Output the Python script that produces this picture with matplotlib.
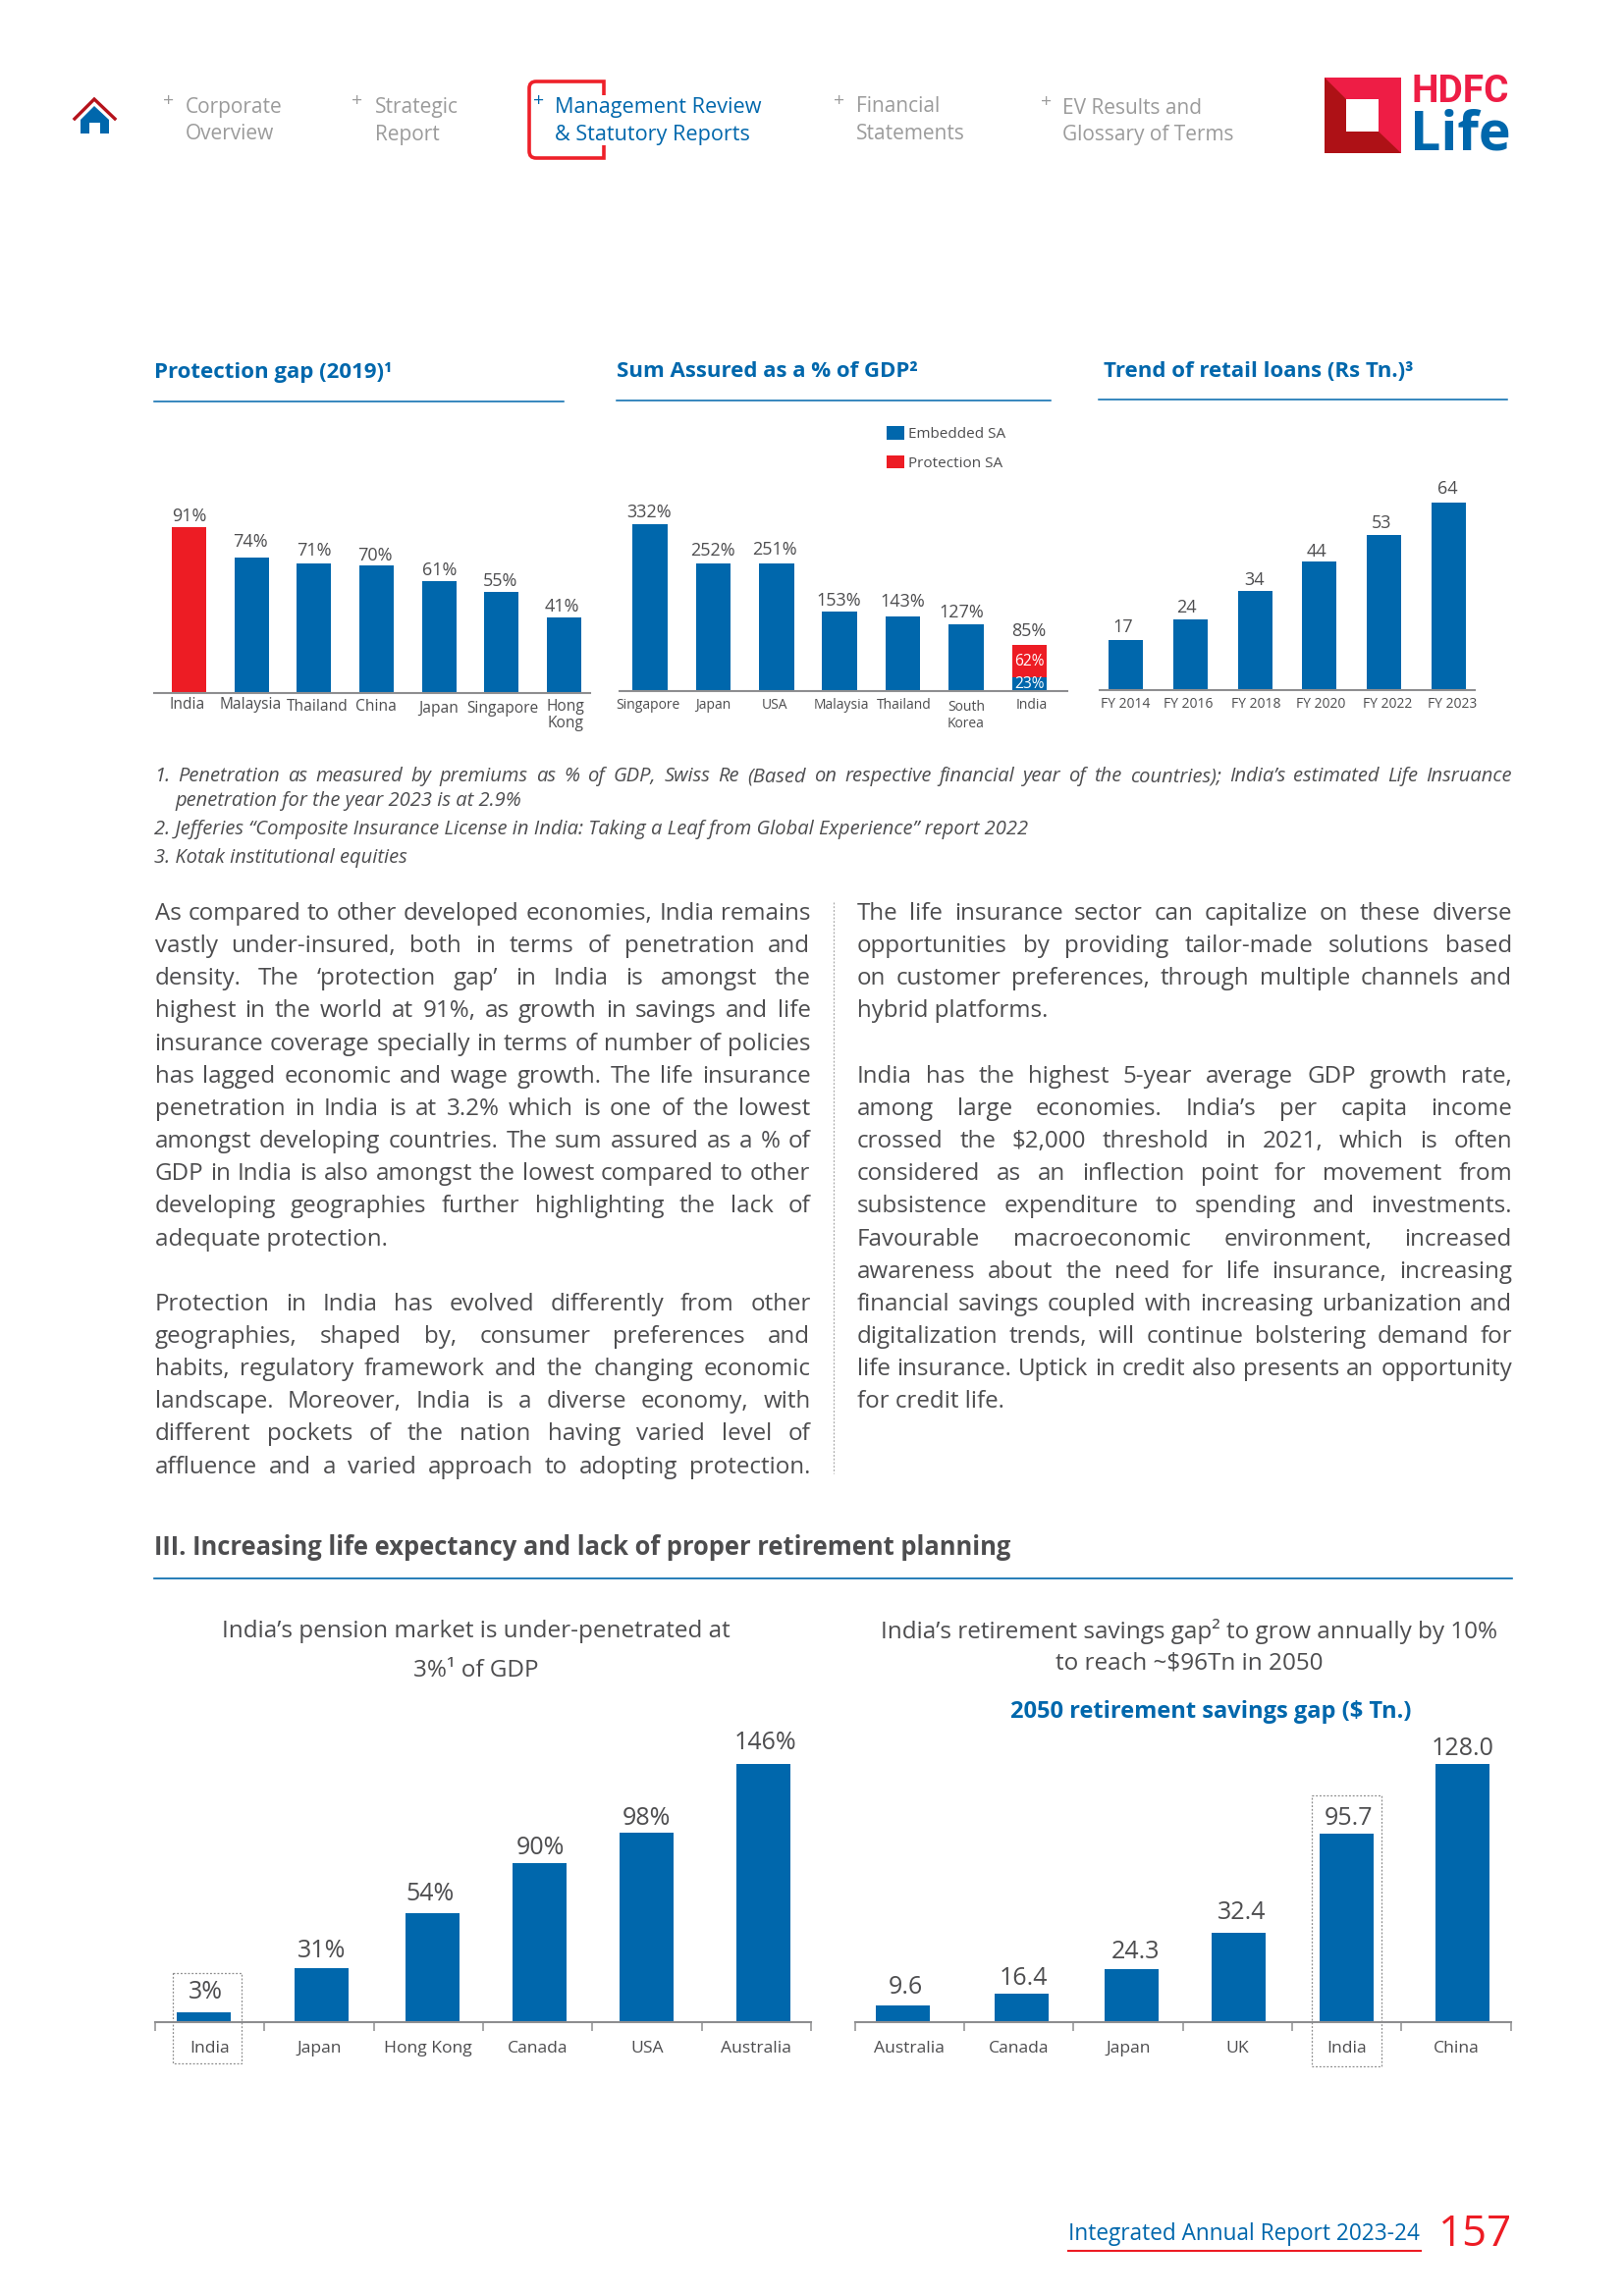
import matplotlib
matplotlib.use("Agg")
import matplotlib.pyplot as plt
from matplotlib.patches import Polygon, Rectangle, PathPatch
from matplotlib.path import Path

plt.rcParams['font.family'] = ['Open Sans', 'DejaVu Sans']

BLUE = '#0067AC'
RED = '#ED1C24'
TEXT = '#4D4D4F'
NAV = '#9B9B9B'
AXIS = '#8E8E90'

# first row of charts
gap_countries = ['India', 'Malaysia', 'Thailand', 'China', 'Japan', 'Singapore', 'Hong\nKong']
gap_values = [91, 74, 71, 70, 61, 55, 41]

sa_countries = ['Singapore', 'Japan', 'USA', 'Malaysia', 'Thailand', 'South\nKorea', 'India']
sa_labels = ['332%', '252%', '251%', '153%', '143%', '127%', '85%']
# bar heights as drawn, the source page does not draw them quite to scale
sa_embedded = [332, 254, 254, 158, 148, 133, 27]
sa_protection = [0, 0, 0, 0, 0, 0, 64]

loan_years = ['FY 2014', 'FY 2016', 'FY 2018', 'FY 2020', 'FY 2022', 'FY 2023']
loan_values = [17, 24, 34, 44, 53, 64]

# second row of charts
pension_countries = ['India', 'Japan', 'Hong Kong', 'Canada', 'USA', 'Australia']
pension_labels = ['3%', '31%', '54%', '90%', '98%', '146%']
pension_heights = [5.6, 30.6, 61.8, 89.7, 107, 146]

savings_countries = ['Australia', 'Canada', 'Japan', 'UK', 'India', 'China']
savings_labels = ['9.6', '16.4', '24.3', '32.4', '95.7', '128.0']
savings_heights = [8.3, 14.1, 26.3, 44.3, 93.4, 128]

nav_items = [
    (172, 189, 'Corporate', 'Overview', NAV),
    (364, 382, 'Strategic', 'Report', NAV),
    (549, 565, 'Management Review', '& Statutory Reports', BLUE),
    (855, 872, 'Financial', 'Statements', NAV),
    (1066, 1082, 'EV Results and', 'Glossary of Terms', NAV),
]

footnotes = [
    'penetration for the year 2023 is at 2.9%',
    '2. Jefferies \u201cComposite Insurance License in India: Taking a Leaf from Global Experience\u201d report 2022',
    '3. Kotak institutional equities',
]
footnote_first = ('1. Penetration as measured by premiums as % of GDP, Swiss Re (Based on respective financial year '
                  'of the countries); India\u2019s estimated Life Insruance')

left_col = [
    'As compared to other developed economies, India remains',
    'vastly under-insured, both in terms of penetration and',
    'density. The \u2018protection gap\u2019 in India is amongst the',
    'highest in the world at 91%, as growth in savings and life',
    'insurance coverage specially in terms of number of policies',
    'has lagged economic and wage growth. The life insurance',
    'penetration in India is at 3.2% which is one of the lowest',
    'amongst developing countries. The sum assured as a % of',
    'GDP in India is also amongst the lowest compared to other',
    'developing geographies further highlighting the lack of',
    '-adequate protection.',
    '',
    'Protection in India has evolved differently from other',
    'geographies, shaped by, consumer preferences and',
    'habits, regulatory framework and the changing economic',
    'landscape. Moreover, India is a diverse economy, with',
    'different pockets of the nation having varied level of',
    'affluence and a varied approach to adopting protection.',
]
right_col = [
    'The life insurance sector can capitalize on these diverse',
    'opportunities by providing tailor-made solutions based',
    'on customer preferences, through multiple channels and',
    '-hybrid platforms.',
    '',
    'India has the highest 5-year average GDP growth rate,',
    'among large economies. India\u2019s per capita income',
    'crossed the $2,000 threshold in 2021, which is often',
    'considered as an inflection point for movement from',
    'subsistence expenditure to spending and investments.',
    'Favourable macroeconomic environment, increased',
    'awareness about the need for life insurance, increasing',
    'financial savings coupled with increasing urbanization and',
    'digitalization trends, will continue bolstering demand for',
    'life insurance. Uptick in credit also presents an opportunity',
    '-for credit life.',
]

fig = plt.figure(figsize=(16.54, 23.39), dpi=100)
page = fig.add_axes([0, 0, 1, 1], zorder=5)
page.set_xlim(0, 1654)
page.set_ylim(2339, 0)
page.axis('off')


def put(x, y, s, size, color=TEXT, **kw):
    kw.setdefault('va', 'center')
    return page.text(x, y, s, fontsize=size, color=color, **kw)


def justify(x0, x1, y, line, size, **kw):
    # word by word so the line fills the column
    words = line.split()
    rend = fig.canvas.get_renderer()
    inv = page.transData.inverted()
    widths = []
    items = []
    for w in words:
        t = put(x0, y, w, size, **kw)
        bb = t.get_window_extent(rend)
        widths.append(inv.transform((bb.x1, 0))[0] - inv.transform((bb.x0, 0))[0])
        items.append(t)
    gap = (x1 - x0 - sum(widths)) / max(len(words) - 1, 1)
    x = x0
    for t, wd in zip(items, widths):
        t.set_x(x)
        x += wd + gap


def column(lines, x0, x1, y0, step):
    y = y0
    for line in lines:
        if line.startswith('-'):
            put(x0, y, line[1:], 17.4)
        elif line:
            justify(x0, x1, y, line, 17.4)
        y += step


def chart_axes(left, right, top, base, ymax):
    ax = fig.add_axes([left / 1654, 1 - base / 2339, (right - left) / 1654, (base - top) / 2339])
    ax.set_ylim(0, ymax)
    ax.patch.set_alpha(0)
    for side in ['top', 'left', 'right']:
        ax.spines[side].set_visible(False)
    ax.spines['bottom'].set_color(AXIS)
    ax.spines['bottom'].set_linewidth(1.5)
    ax.set_yticks([])
    return ax


def labels(ax, xs, tops, texts, dx, dy, size):
    for x, h, s, a, b in zip(xs, tops, texts, dx, dy):
        ax.annotate(s, (x, h), xytext=(a, b), textcoords='offset pixels', ha='center', va='center',
                    fontsize=size, color=TEXT)


def names(ax, xs, texts, dx, dy, size):
    for x, s, a, b in zip(xs, texts, dx, dy):
        ax.annotate(s, (x, 0), xytext=(a, -b), textcoords='offset pixels', ha='center', va='center',
                    fontsize=size, color=TEXT, linespacing=1.15, annotation_clip=False)


# header
page.plot([76, 96, 117], [121, 101, 121], color='#B5121B', lw=2.4, solid_joinstyle='miter')
page.add_patch(Polygon([(82, 122), (96, 108), (111, 122), (111, 136), (102, 136), (102, 125),
                        (91, 125), (91, 136), (82, 136)], color=BLUE, lw=0))
for plus_x, x, one, two, col in nav_items:
    yy = 1 if one.startswith('EV') else 0
    put(plus_x, 103 + yy, '+', 14, col, ha='center')
    size = 15.6 if col == BLUE else 15.0
    put(x, 109 + yy, one, size, col)
    put(x, 137 + yy, two, size, col)
bracket = Path([(615, 97), (615, 83), (611, 83), (546, 83), (539, 83), (539, 90), (539, 154), (539, 161), (546, 161),
                (611, 161), (615, 161), (615, 148)],
               [Path.MOVETO, Path.LINETO, Path.LINETO, Path.LINETO, Path.CURVE3, Path.CURVE3, Path.LINETO,
                Path.CURVE3, Path.CURVE3, Path.LINETO, Path.LINETO, Path.LINETO])
page.add_patch(PathPatch(bracket, fill=False, edgecolor='#EE2029', lw=2.6))

page.add_patch(Rectangle((1349, 79), 78, 77, color='#EE1D45', lw=0))
page.add_patch(Polygon([(1349, 79), (1371, 101), (1371, 134), (1404, 134), (1427, 156), (1349, 156)],
                       color='#AE1116', lw=0))
page.add_patch(Rectangle((1371, 101), 33, 33, color='white', lw=0))
put(1437, 94, 'HDFC', 28, '#EE1D45', fontweight='bold', fontfamily='Roboto')
put(1436, 138, 'Life', 40, BLUE, fontweight='bold', fontfamily='Open Sans')

# section titles of the first row
for x0, x1, ty, ly, s in [(157, 574, 380, 408.5, 'Protection gap (2019)\u00b9'),
                          (628, 1070, 379, 407.5, 'Sum Assured as a % of GDP\u00b2'),
                          (1124, 1535, 378, 406.5, 'Trend of retail loans (Rs Tn.)\u00b3')]:
    put(x0, ty, s, 16, BLUE, fontweight='bold')
    page.plot([x0 - 5 if x0 > 1000 else x0, x1], [ly, ly], color=BLUE, lw=1.1)

# protection gap
ax = chart_axes(157, 601, 520, 705.5, 100)
step = 63.67
ax.set_xlim((157 - 192.5) / step, (601 - 192.5) / step)
xs = list(range(len(gap_values)))
ax.bar(xs, gap_values, width=0.55, color=[RED] + [BLUE] * 6)
ax.set_ylim(0, 185.0 / 1.85)
ax.set_xticks([])
labels(ax, xs, gap_values, ['%d%%' % v for v in gap_values], [0.5, -1, 0, -2, 0.5, -1.5, -2.5],
       [11, 16, 13, 10, 11, 11, 11], 13)
names(ax, xs, gap_countries, [-2, -1, 3, -1, -1, 1, 1], [13, 13, 15, 14, 17, 17, 23], 11.2)

# sum assured
ax = chart_axes(631, 1087, 510, 704, 194 / 0.512)
step = 64.4
ax.set_xlim((631 - 662) / step, (1087 - 662) / step)
xs = list(range(len(sa_embedded)))
ax.bar(xs, sa_embedded, width=0.55, color=BLUE, label='Embedded SA')
ax.bar(xs, sa_protection, bottom=sa_embedded, width=0.55, color=RED, label='Protection SA')
ax.set_xticks([])
tops = [a + b for a, b in zip(sa_embedded, sa_protection)]
labels(ax, xs, tops, sa_labels, [-1, -0.5, -1.5, -0.5, -0.5, -5, -0.5], [12, 13, 14, 11, 15, 12, 14], 13)
names(ax, xs, sa_countries, [-2, 0, -1.5, 1.5, 1.5, 0, 2.5], [15, 15, 15, 15, 15, 25, 15], 10)
ax.annotate('62%', (6, sa_embedded[6] + sa_protection[6] / 2), xytext=(0, 0), textcoords='offset pixels',
            ha='center', va='center', fontsize=11.2, color='white')
ax.annotate('23%', (6, sa_embedded[6] / 2), xytext=(0, 0), textcoords='offset pixels',
            ha='center', va='center', fontsize=11.2, color='white')
fig.legend(*ax.get_legend_handles_labels(), loc='upper left', bbox_to_anchor=(903 / 1654, 1 - 434 / 2339),
           frameon=False, fontsize=11, labelcolor=TEXT, handlelength=1.2, handleheight=1.0,
           handletextpad=0.25, labelspacing=0.9, borderpad=0, borderaxespad=0)

# retail loans
ax = chart_axes(1120, 1502, 490, 703, 213 / 2.98)
step = 65.8
ax.set_xlim((1120 - 1146.5) / step, (1502 - 1146.5) / step)
xs = list(range(len(loan_values)))
ax.bar(xs, loan_values, width=0.53, color=BLUE)
ax.set_xticks([])
labels(ax, xs, loan_values, ['%d' % v for v in loan_values], [-2.5, -4, -1, -3, -3, -1.5],
       [13, 12, 11, 10, 12, 14], 13)
names(ax, xs, loan_years, [0, -2, 1, 1, 3, 4], [14, 14, 14, 14, 14, 14], 10)

# footnotes
justify(157, 1540, 791, footnote_first, 14.5, fontstyle='italic')
put(178, 816, footnotes[0], 14.5, fontstyle='italic')
put(157, 845, footnotes[1], 14.5, fontstyle='italic')
put(157, 874, footnotes[2], 14.5, fontstyle='italic')

# body text
column(left_col, 157.5, 825.5, 931, 33.15)
column(right_col, 873, 1540, 931, 33.15)
page.plot([849, 849], [919, 1501], color='#A8A8A8', lw=0.9, ls=(0, (1.5, 1.5)))

# section III
put(157, 1576, 'III. Increasing life expectancy and lack of proper retirement planning', 18.4, TEXT, fontweight='bold')
page.plot([157, 1540], [1608, 1608], color=BLUE, lw=1.2)

put(484.5, 1662, 'India\u2019s pension market is under-penetrated at', 17.5, ha='center')
put(484.5, 1702, '3%\u00b9 of GDP', 17.5, ha='center')
put(1211, 1662, 'India\u2019s retirement savings gap\u00b2 to grow annually by 10%', 17.5, ha='center')
put(1211, 1694, 'to reach ~$96Tn in 2050', 17.5, ha='center')
put(1233, 1744, '2050 retirement savings gap ($ Tn.)', 17, BLUE, fontweight='bold', ha='center')


def lower_chart(left, right, cats, heights, texts, nudge, dx, dy):
    ax = chart_axes(left, right, 1770, 2060, 290 / (263 / max(heights)))
    slot = (right - left) / len(cats)
    ax.set_xlim(-0.5, len(cats) - 0.5)
    xs = [i + n / slot for i, n in enumerate(nudge)]
    ax.bar(xs, heights, width=55 / slot, color=BLUE)
    ax.set_xticks([i - 0.5 for i in range(len(cats) + 1)], [''] * (len(cats) + 1))
    ax.tick_params(axis='x', length=6.5, width=1.1, color=AXIS, direction='out')
    ax.set_xticks(range(len(cats)), cats, minor=True)
    ax.tick_params(axis='x', which='minor', length=0, labelsize=12.6, labelcolor=TEXT, pad=14)
    labels(ax, xs, heights, texts, dx, dy, 18)


lower_chart(158, 826, pension_countries, pension_heights, pension_labels,
            [-5.7, 2.5, 4, 2, -1, 7], [1.5, 0.5, -2, 0.5, 0, 2], [20, 17, 19, 16, 15, 21])
lower_chart(870.6, 1538.6, savings_countries, savings_heights, savings_labels,
            [-6.7, 3, 4, 1.5, -0.6, 6.5], [3, 2, 4, 2.5, 2, 0], [18, 16, 17, 20, 16, 16])

for x0, x1, y0, y1 in [(176, 246, 2010, 2102), (1336, 1407, 1829, 2105)]:
    page.add_patch(Rectangle((x0, y0), x1 - x0, y1 - y0, fill=False, edgecolor='#8C8C8C', lw=0.9,
                             ls=(0, (1.5, 1.5))))

# footer
put(1088, 2276, 'Integrated Annual Report 2023-24', 16.3, BLUE)
page.plot([1088, 1447], [2293, 2293], color=RED, lw=1.5)
put(1465, 2277, '157', 31.5, RED)

fig.savefig('out.png', dpi=100)
